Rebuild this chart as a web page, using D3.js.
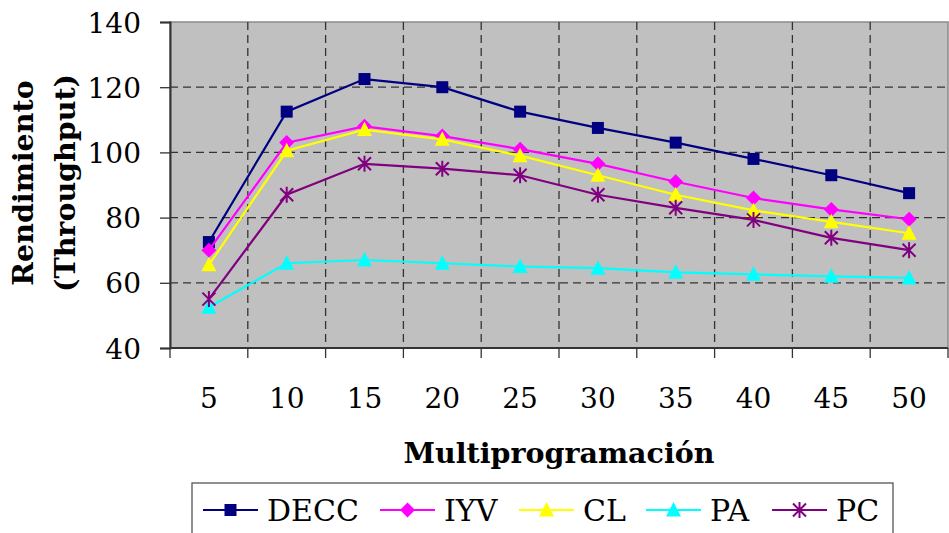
<!DOCTYPE html>
<html>
<head>
<meta charset="utf-8">
<script src="https://cdn.jsdelivr.net/npm/d3@7.9.0/dist/d3.min.js"></script>
<style>
  body { margin: 0; background: #fff; }
  svg { display: block; font-family: "DejaVu Serif", serif; }
</style>
</head>
<body>
<svg id="chart" width="949" height="533"></svg>
<script>
// ---- data ----
const categories = ['5', '10', '15', '20', '25', '30', '35', '40', '45', '50'];
const decc = [72.5, 112.5, 122.5, 120, 112.5, 107.5, 103, 98, 93, 87.5];
const iyv  = [70, 103, 108, 105, 101, 96.5, 91, 86, 82.5, 79.5];
const cl   = [65.5, 100.5, 107, 104, 99, 93, 87, 82.2, 78.7, 75.2];
const pa   = [52.5, 66, 67, 66, 65, 64.5, 63.2, 62.6, 62, 61.5];
const pc   = [55, 87, 96.5, 95, 93, 87, 83, 79.3, 73.8, 70];
const yTicks = [40, 60, 80, 100, 120, 140];

const series = [
  { name: 'DECC', values: decc, color: '#000080', marker: 'square' },
  { name: 'IYV',  values: iyv,  color: '#FF00FF', marker: 'diamond' },
  { name: 'CL',   values: cl,   color: '#FFFF00', marker: 'triangle' },
  { name: 'PA',   values: pa,   color: '#00FFFF', marker: 'triangle' },
  { name: 'PC',   values: pc,   color: '#800080', marker: 'star' },
];

const plot = { left: 170, right: 948, top: 22, bottom: 348 };
const svg = d3.select('#chart');

const x = d3.scaleBand().domain(categories).range([plot.left, plot.right]);
const y = d3.scaleLinear().domain([40, 140]).range([plot.bottom, plot.top]);

// plot background
svg.append('rect')
  .attr('x', plot.left).attr('y', plot.top)
  .attr('width', plot.right - plot.left).attr('height', plot.bottom - plot.top)
  .attr('fill', '#C0C0C0')
  .attr('stroke', '#8a8a8a').attr('stroke-width', 1.5);

// gridlines
const grid = svg.append('g').attr('stroke', '#333').attr('stroke-width', 1.3)
  .attr('stroke-dasharray', '8,5');

grid.selectAll('line.h')
  .data(yTicks.filter(d => d > 40 && d < 140))
  .join('line')
  .attr('class', 'h')
  .attr('x1', plot.left).attr('x2', plot.right)
  .attr('y1', d => y(d)).attr('y2', d => y(d));

grid.selectAll('line.v')
  .data(categories.slice(1))
  .join('line')
  .attr('class', 'v')
  .attr('x1', d => x(d)).attr('x2', d => x(d))
  .attr('y1', plot.top).attr('y2', plot.bottom);

// y axis
const yAxis = svg.append('g')
  .attr('transform', `translate(${plot.left},0)`)
  .call(d3.axisLeft(y).tickValues(yTicks).tickSize(10).tickPadding(19));
yAxis.select('.domain').attr('stroke', '#333').attr('stroke-width', 2);
yAxis.selectAll('.tick line').attr('stroke', '#333').attr('stroke-width', 1.3);
yAxis.selectAll('.tick text')
  .attr('font-size', 28).attr('font-family', '"DejaVu Serif", serif')
  .attr('fill', '#000').attr('dy', '0.36em');

// x axis (ticks at band edges)
const xAxisG = svg.append('g');
xAxisG.append('line')
  .attr('x1', plot.left).attr('x2', plot.right)
  .attr('y1', plot.bottom).attr('y2', plot.bottom)
  .attr('stroke', '#333').attr('stroke-width', 2);
xAxisG.selectAll('line.tk')
  .data(categories.concat(['end']))
  .join('line')
  .attr('class', 'tk')
  .attr('x1', (d, i) => plot.left + i * x.bandwidth())
  .attr('x2', (d, i) => plot.left + i * x.bandwidth())
  .attr('y1', plot.bottom).attr('y2', plot.bottom + 10)
  .attr('stroke', '#333').attr('stroke-width', 1.3);
xAxisG.selectAll('text')
  .data(categories)
  .join('text')
  .attr('x', d => x(d) + x.bandwidth() / 2)
  .attr('y', 408)
  .attr('text-anchor', 'middle')
  .attr('font-size', 28)
  .text(d => d);

// axis titles
svg.append('text')
  .attr('x', 559).attr('y', 463)
  .attr('text-anchor', 'middle')
  .attr('font-size', 28.5).attr('font-weight', 'bold')
  .text('Multiprogramación');

const yTitle = svg.append('text')
  .attr('transform', 'translate(0,183) rotate(-90)')
  .attr('text-anchor', 'middle')
  .attr('font-size', 28.5).attr('font-weight', 'bold');
yTitle.append('tspan').attr('x', 0).attr('y', 33).text('Rendimiento');
yTitle.append('tspan').attr('x', 0).attr('y', 75).text('(Throughput)');

// marker drawing
function drawMarker(g, type, color) {
  if (type === 'square') {
    g.append('rect').attr('x', -6).attr('y', -6).attr('width', 12).attr('height', 12)
      .attr('fill', color);
  } else if (type === 'diamond') {
    g.append('path').attr('d', 'M0,-7.5L7.5,0L0,7.5L-7.5,0Z').attr('fill', color);
  } else if (type === 'triangle') {
    g.append('path').attr('d', 'M0,-8L7.5,6.5L-7.5,6.5Z').attr('fill', color);
  } else if (type === 'star') {
    g.append('path')
      .attr('d', 'M-6.5,-6.5L6.5,6.5M-6.5,6.5L6.5,-6.5M0,-8L0,8')
      .attr('stroke', color).attr('stroke-width', 2).attr('fill', 'none');
  }
}

// lines + markers
const line = d3.line()
  .x((d, i) => x(categories[i]) + x.bandwidth() / 2)
  .y(d => y(d));

series.forEach(s => {
  svg.append('path')
    .datum(s.values)
    .attr('d', line)
    .attr('fill', 'none')
    .attr('stroke', s.color)
    .attr('stroke-width', 2.2);

  svg.append('g').selectAll('g')
    .data(s.values)
    .join('g')
    .attr('transform', (d, i) => `translate(${x(categories[i]) + x.bandwidth() / 2},${y(d)})`)
    .each(function () { drawMarker(d3.select(this), s.marker, s.color); });
});

// legend
const legendX = [203, 380, 519, 646, 772];
const legend = svg.append('g');
legend.append('rect')
  .attr('x', 192).attr('y', 483)
  .attr('width', 701).attr('height', 60)
  .attr('fill', '#fff').attr('stroke', '#555').attr('stroke-width', 1.3);

series.forEach((s, i) => {
  const g = legend.append('g').attr('transform', `translate(${legendX[i]},510)`);
  g.append('line').attr('x1', 0).attr('x2', 55).attr('y1', 0).attr('y2', 0)
    .attr('stroke', s.color).attr('stroke-width', 2.2);
  const m = g.append('g').attr('transform', 'translate(27.5,0)');
  drawMarker(m, s.marker, s.color);
  g.append('text')
    .attr('x', 64).attr('y', 11)
    .attr('font-size', 30)
    .text(s.name);
});
</script>
</body>
</html>
